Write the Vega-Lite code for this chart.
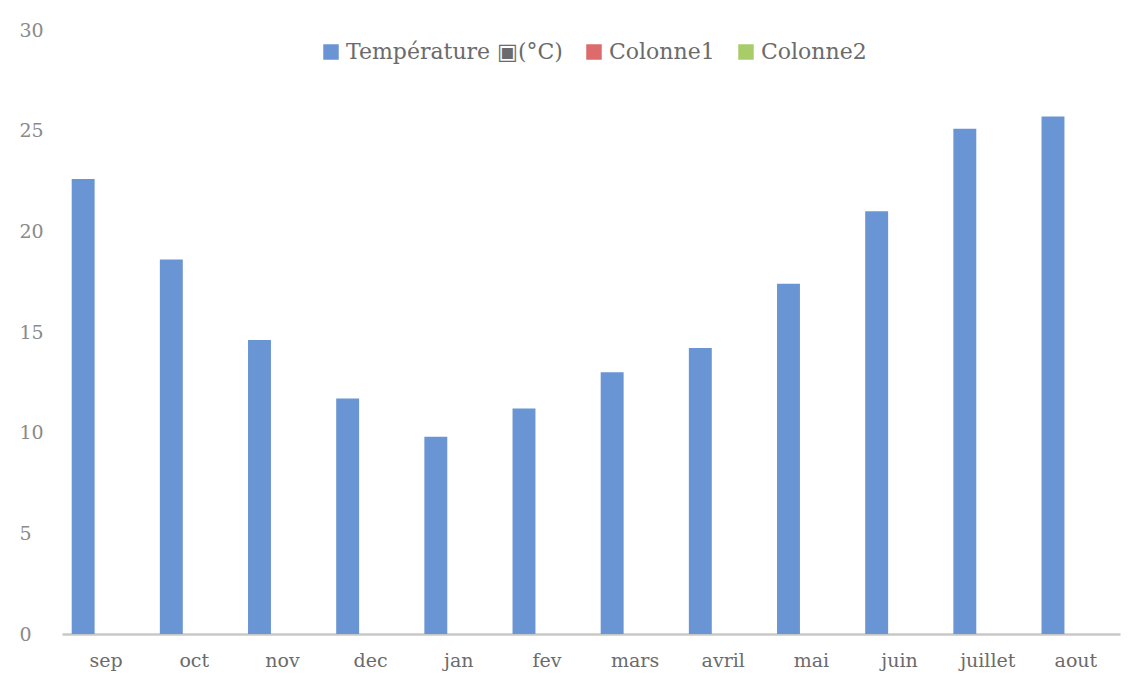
{
  "$schema": "https://vega.github.io/schema/vega-lite/v6.json",
  "autosize": "none",
  "width": 1058,
  "height": 604,
  "padding": {"left": 62, "top": 30, "right": 28, "bottom": 44},
  "background": "white",
  "config": {
    "view": {"stroke": null},
    "font": "DejaVu Serif"
  },
  "data": {
    "values": [
      {"mois": "sep", "serie": "Température ▣(°C)", "valeur": 22.6},
      {"mois": "oct", "serie": "Température ▣(°C)", "valeur": 18.6},
      {"mois": "nov", "serie": "Température ▣(°C)", "valeur": 14.6},
      {"mois": "dec", "serie": "Température ▣(°C)", "valeur": 11.7},
      {"mois": "jan", "serie": "Température ▣(°C)", "valeur": 9.8},
      {"mois": "fev", "serie": "Température ▣(°C)", "valeur": 11.2},
      {"mois": "mars", "serie": "Température ▣(°C)", "valeur": 13.0},
      {"mois": "avril", "serie": "Température ▣(°C)", "valeur": 14.2},
      {"mois": "mai", "serie": "Température ▣(°C)", "valeur": 17.4},
      {"mois": "juin", "serie": "Température ▣(°C)", "valeur": 21.0},
      {"mois": "juillet", "serie": "Température ▣(°C)", "valeur": 25.1},
      {"mois": "aout", "serie": "Température ▣(°C)", "valeur": 25.7}
    ]
  },
  "mark": {"type": "bar"},
  "encoding": {
    "x": {
      "field": "mois",
      "type": "nominal",
      "sort": null,
      "scale": {"paddingInner": 0.22, "paddingOuter": 0.11},
      "axis": {
        "title": null,
        "labelAngle": 0,
        "labelFontSize": 19,
        "labelColor": "#6b6b6b",
        "labelPadding": 17,
        "ticks": false,
        "domainColor": "#c8c8c8",
        "domainWidth": 2.5
      }
    },
    "xOffset": {
      "field": "serie",
      "type": "nominal",
      "scale": {"domain": ["Température ▣(°C)", "Colonne1", "Colonne2"], "paddingInner": 0, "paddingOuter": 0}
    },
    "y": {
      "field": "valeur",
      "type": "quantitative",
      "scale": {"domain": [0, 30], "nice": false},
      "axis": {
        "title": null,
        "values": [0, 5, 10, 15, 20, 25, 30],
        "grid": false,
        "domain": false,
        "ticks": false,
        "labelAlign": "left",
        "labelPadding": 43,
        "labelFontSize": 19,
        "labelColor": "#8a8a8a"
      }
    },
    "color": {
      "field": "serie",
      "type": "nominal",
      "scale": {
        "domain": ["Température ▣(°C)", "Colonne1", "Colonne2"],
        "range": ["#6A95D4", "#DD6B6B", "#A9CC6A"]
      },
      "legend": {
        "title": null,
        "orient": "none",
        "direction": "horizontal",
        "legendX": 258,
        "legendY": 11,
        "symbolType": "square",
        "symbolSize": 240,
        "symbolStrokeWidth": 0,
        "labelFontSize": 22,
        "labelLimit": 0,
        "labelColor": "#6b6b6b",
        "labelOffset": 4,
        "columnPadding": 20,
        "symbolOffset": 0
      }
    }
  }
}
